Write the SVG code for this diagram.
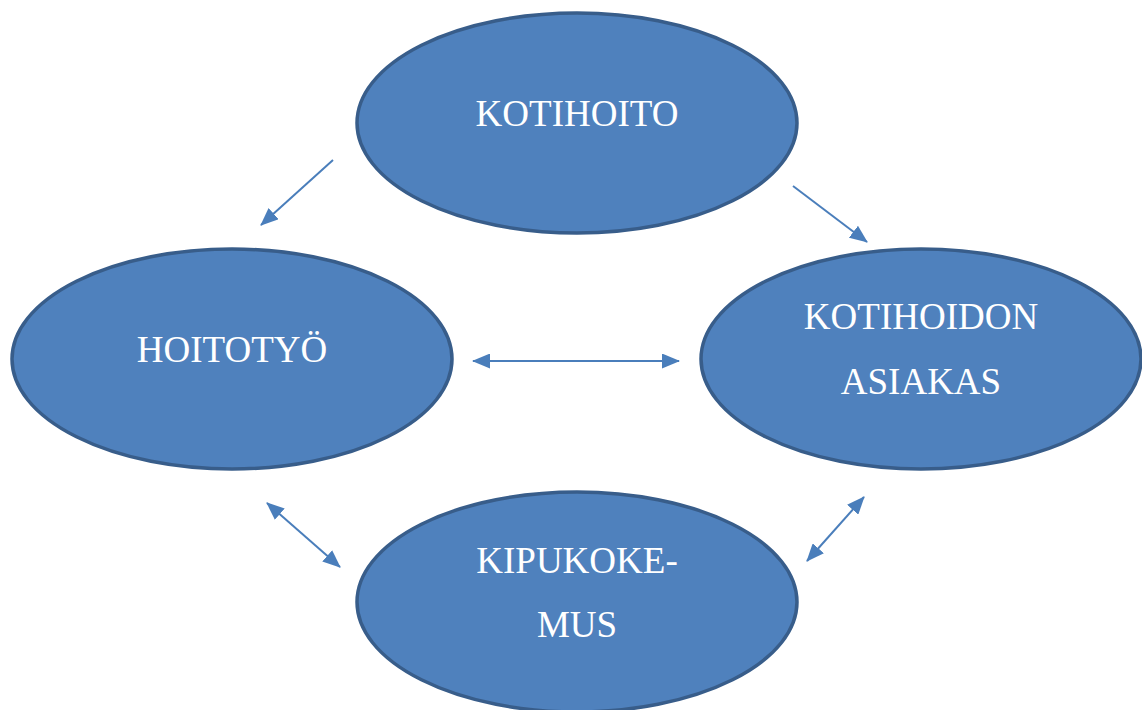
<svg xmlns="http://www.w3.org/2000/svg" width="1142" height="710" viewBox="0 0 1142 710">
<defs>
<marker id="ah" markerUnits="userSpaceOnUse" markerWidth="18" markerHeight="15" viewBox="0 0 18 15" refX="17" refY="7.5" orient="auto-start-reverse">
<path d="M0,0 L18,7.5 L0,15 Z" fill="#4A7EBB"/>
</marker>
<style>
.node{fill:#4F81BD;stroke:#385D8A;stroke-width:3.5}
.lbl{font-family:"Liberation Serif","Times New Roman",serif;font-size:37px;fill:#FFFFFF;text-anchor:middle}
.con{stroke:#4A7EBB;stroke-width:2;fill:none}
</style>
</defs>
<rect width="1142" height="710" fill="#FFFFFF"/>
<g id="kotihoito">
<ellipse class="node" cx="577" cy="123" rx="220" ry="110"/>
<text class="lbl" x="577" y="126">KOTIHOITO</text>
</g>
<g id="hoitotyo">
<ellipse class="node" cx="232" cy="359" rx="220" ry="110"/>
<text class="lbl" x="232" y="362">HOITOTYÖ</text>
</g>
<g id="asiakas">
<ellipse class="node" cx="921" cy="359" rx="220" ry="110"/>
<text class="lbl" x="921" y="329">KOTIHOIDON</text>
<text class="lbl" x="921" y="394">ASIAKAS</text>
</g>
<g id="kipukokemus">
<ellipse class="node" cx="577" cy="602" rx="220" ry="110"/>
<text class="lbl" x="577" y="573">KIPUKOKE-</text>
<text class="lbl" x="577" y="637">MUS</text>
</g>
<g id="connectors">
<line class="con" x1="333" y1="160" x2="261" y2="225" marker-end="url(#ah)"/>
<line class="con" x1="793" y1="186" x2="867" y2="242" marker-end="url(#ah)"/>
<line class="con" x1="473" y1="361" x2="679" y2="361" marker-start="url(#ah)" marker-end="url(#ah)"/>
<line class="con" x1="267" y1="503" x2="340" y2="567" marker-start="url(#ah)" marker-end="url(#ah)"/>
<line class="con" x1="864" y1="497" x2="807" y2="561" marker-start="url(#ah)" marker-end="url(#ah)"/>
</g>
</svg>
